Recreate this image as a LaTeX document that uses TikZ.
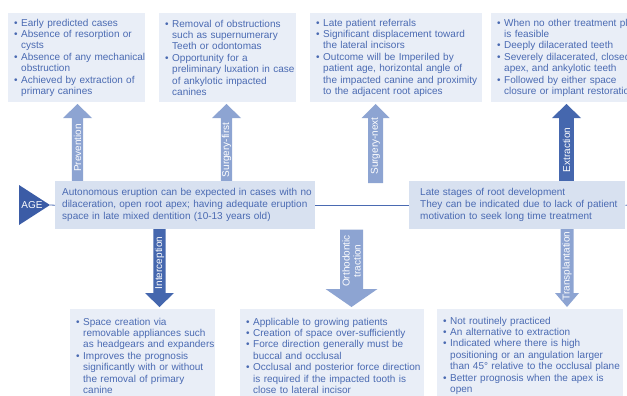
\documentclass[tikz,border=0pt]{standalone}
\usepackage{fontspec}
\setmainfont{Liberation Sans}
\definecolor{txtblue}{HTML}{4A6AB2}
\definecolor{boxlight}{HTML}{E9EEF7}
\definecolor{boxmid}{HTML}{D8E1F0}
\definecolor{arrlight}{HTML}{8DA4D2}
\definecolor{arrdark}{HTML}{4567AE}
\definecolor{agedark}{HTML}{3B5CA6}
\newcommand{\bl}[1]{\noindent\mbox{\makebox[7pt][l]{•}#1}\par}
\newcommand{\cl}[1]{\noindent\mbox{\hspace*{7pt}#1}\par}
\newcommand{\ml}[1]{\noindent\mbox{#1}\par}
% block arrow: cx, shaft half width, head half width, tip y, head base y, shaft end y, colour
\newcommand{\blockarr}[7]{\fill[#7] ({#1-#2},#6) -- ({#1-#2},#5) -- ({#1-#3},#5) -- (#1,#4) -- ({#1+#3},#5) -- ({#1+#2},#5) -- ({#1+#2},#6) -- cycle;}
\begin{document}
\begin{tikzpicture}[x=1pt,y=-1pt,
  infobox/.style={fill=boxlight, anchor=north west, inner xsep=6pt, inner ysep=0pt,
    align=left, font=\fontsize{10}{11.4}\selectfont, text=txtblue},
  midbox/.style={fill=boxmid, anchor=north west, inner ysep=0pt,
    align=left, font=\fontsize{10}{12}\selectfont, text=txtblue},
  lbl/.style={text=white, font=\fontsize{10}{11}\selectfont, rotate=90, inner sep=0pt, align=center},
  link/.style={draw=txtblue, line width=0.8pt}]
\useasboundingbox (0,0) rectangle (627,396);
\clip (0,0) rectangle (627,396);

% block arrows
\blockarr{77.5}{5.6}{14.5}{104}{118}{183}{arrlight}
\blockarr{226.5}{5.6}{14.5}{104}{118}{183}{arrlight}
\blockarr{375.5}{7.5}{14}{104}{118}{183}{arrlight}
\blockarr{566.5}{7.3}{14.5}{104}{118}{183}{arrdark}
\blockarr{159.5}{6.2}{14.5}{307}{293}{227}{arrdark}
\blockarr{351.5}{11.5}{26}{307}{289}{229.5}{arrlight}
\blockarr{567}{6.5}{12}{307}{293}{227}{arrlight}

% top boxes
\node[infobox, text width=125pt, minimum height=89pt] (b1) at (8,13) {%
\bl{Early predicted cases}
\bl{Absence of resorption or}
\cl{cysts}
\bl{Absence of any mechanical}
\cl{obstruction}
\bl{Achieved by extraction of}
\cl{primary canines}};
\node[infobox, text width=125pt, minimum height=89pt] (b2) at (159,13) {%
\bl{Removal of obstructions}
\cl{such as supernumerary}
\cl{Teeth or odontomas}
\bl{Opportunity for a}
\cl{preliminary luxation in case}
\cl{of ankylotic impacted}
\cl{canines}};
\node[infobox, text width=160pt, minimum height=89pt] (b3) at (310,13) {%
\bl{Late patient referrals}
\bl{Significant displacement toward}
\cl{the lateral incisors}
\bl{Outcome will be Imperiled by}
\cl{patient age, horizontal angle of}
\cl{the impacted canine and proximity}
\cl{to the adjacent root apices}};
\node[infobox, text width=148pt, minimum height=89pt] (b4) at (491,13) {%
\bl{When no other treatment plan}
\cl{is feasible}
\bl{Deeply dilacerated teeth}
\bl{Severely dilacerated, closed}
\cl{apex, and ankylotic teeth}
\bl{Followed by either space}
\cl{closure or implant restoration}};

% middle row
\coordinate (ageapex) at (50,205);
\fill[agedark] (19,185) -- (19,225) -- (ageapex) -- cycle;
\node[text=white, font=\fontsize{10}{12}\selectfont, inner sep=0pt] (age) at (32,205.5) {AGE};
\node[midbox, inner xsep=7pt, text width=246pt, minimum height=48pt] (ma) at (55,181) {%
\ml{Autonomous eruption can be expected in cases with no}
\ml{dilaceration, open root apex; having adequate eruption}
\ml{space in late mixed dentition (10-13 years old)}};
\node[midbox, inner xsep=11pt, text width=194pt, minimum height=48pt] (mb) at (409,181) {%
\ml{Late stages of root development}
\ml{They can be indicated due to lack of patient}
\ml{motivation to seek long time treatment}};
\coordinate (rightend) at (630,205);
\draw[link] (ageapex) -- (ma.west);
\draw[link] (ma.east) -- (mb.west);
\draw[link] (mb.east) -- (rightend);

% bottom boxes
\node[infobox, text width=133pt, minimum height=93pt] (bi) at (70,309) {%
\bl{Space creation via}
\cl{removable appliances such}
\cl{as headgears and expanders}
\bl{Improves the prognosis}
\cl{significantly with or without}
\cl{the removal of primary}
\cl{canine}};
\node[infobox, text width=172pt, minimum height=93pt] (bo) at (240,309) {%
\bl{Applicable to growing patients}
\bl{Creation of space over-sufficiently}
\bl{Force direction generally must be}
\cl{buccal and occlusal}
\bl{Occlusal and posterior force direction}
\cl{is required if the impacted tooth is}
\cl{close to lateral incisor}};
\node[infobox, text width=174pt, minimum height=93pt] (bt) at (437,309) {%
\bl{Not routinely practiced}
\bl{An alternative to extraction}
\bl{Indicated where there is high}
\cl{positioning or an angulation larger}
\cl{than 45° relative to the occlusal plane}
\bl{Better prognosis when the apex is}
\cl{open}};

% arrow labels
\node[lbl] (lprev) at (77.5,148) {Prevention};
\node[lbl] (lsf) at (226.5,150) {Surgery-first};
\node[lbl] (lsn) at (375.5,146) {Surgery-next};
\node[lbl] (lext) at (566.5,150) {Extraction};
\node[lbl] (lint) at (159.5,263) {Interception};
\node[lbl] (lort) at (351.5,261) {Orthodontic\\traction};
\node[lbl] (ltra) at (567,266) {Transplantation};
\end{tikzpicture}
\end{document}
